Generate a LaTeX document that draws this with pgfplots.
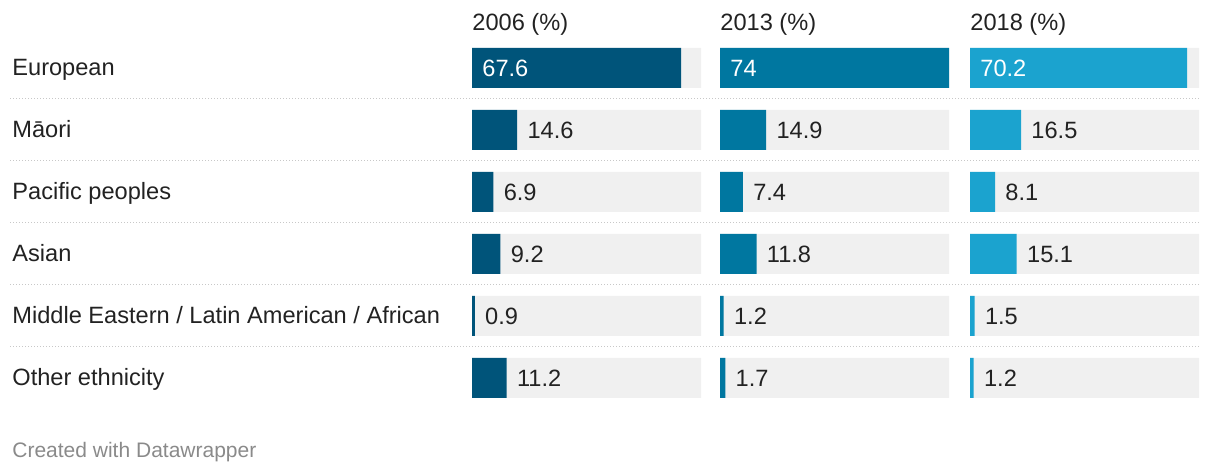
\documentclass[border=0pt]{standalone}
\usepackage{pgfplots}
\pgfplotsset{compat=1.18}
\usepackage{fontspec}
\setmainfont{Liberation Sans}
\definecolor{cA}{HTML}{00547A}
\definecolor{cB}{HTML}{0077A0}
\definecolor{cC}{HTML}{1BA3CF}
\definecolor{bg}{HTML}{F0F0F0}
\definecolor{txt}{HTML}{222222}
\definecolor{foot}{HTML}{8A8A8A}
\definecolor{sep}{HTML}{C8C8C8}
\pgfplotsset{
  panel/.style={
    scale only axis, width=114.5pt, height=186pt,
    anchor=north west,
    xmin=0, xmax=74, ymin=-0.5, ymax=5.5, y dir=reverse,
    axis lines=none, clip=false,
    bar width=20pt, bar shift=0pt,
  },
  lab/.style={draw=none, mark=none, nodes near coords, point meta=explicit symbolic,
    nodes near coords style={anchor=west, inner sep=0pt, xshift=5pt, font=\fontsize{11.8}{14}\selectfont, text=#1}},
}
\begin{document}
\begin{tikzpicture}
\useasboundingbox (0,0) rectangle (610pt,-237pt);
\begin{scope}[font=\fontsize{11.8}{14}\selectfont, text=txt]
\node[anchor=base west, inner sep=0pt] at (6pt,-38pt) {European};
\node[anchor=base west, inner sep=0pt] at (6pt,-69pt) {Māori};
\node[anchor=base west, inner sep=0pt] at (6pt,-100pt) {Pacific peoples};
\node[anchor=base west, inner sep=0pt] at (6pt,-131pt) {Asian};
\node[anchor=base west, inner sep=0pt] at (6pt,-162pt) {Middle Eastern / Latin American / African};
\node[anchor=base west, inner sep=0pt] at (6pt,-193pt) {Other ethnicity};
\node[anchor=base west, inner sep=0pt] at (236pt,-15.5pt) {2006 (\%)};
\node[anchor=base west, inner sep=0pt] at (360pt,-15.5pt) {2013 (\%)};
\node[anchor=base west, inner sep=0pt] at (485pt,-15.5pt) {2018 (\%)};
\end{scope}
\node[anchor=base west, inner sep=0pt, font=\fontsize{10.5}{12}\selectfont, text=foot] at (6pt,-229pt) {Created with Datawrapper};
\foreach \yy in {49.5,80.5,111.5,142.5,173.5}
  \draw[sep, line width=0.5pt, dash pattern=on 0.5pt off 1pt] (5pt,-\yy pt) -- (600pt,-\yy pt);
% 2006
\begin{axis}[panel, at={(236pt,-18.5pt)}]
\addplot[xbar, fill=bg, draw=none] coordinates {(74,0) (74,1) (74,2) (74,3) (74,4) (74,5)};
\addplot[xbar, fill=cA, draw=none] coordinates {(67.6,0) (14.6,1) (6.9,2) (9.2,3) (0.9,4) (11.2,5)};
\addplot[lab=white] coordinates {(0,0) [67.6]};
\addplot[lab=txt] coordinates {(14.6,1) [14.6] (6.9,2) [6.9] (9.2,3) [9.2] (0.9,4) [0.9] (11.2,5) [11.2]};
\end{axis}
% 2013
\begin{axis}[panel, at={(360pt,-18.5pt)}]
\addplot[xbar, fill=bg, draw=none] coordinates {(74,0) (74,1) (74,2) (74,3) (74,4) (74,5)};
\addplot[xbar, fill=cB, draw=none] coordinates {(74,0) (14.9,1) (7.4,2) (11.8,3) (1.2,4) (1.7,5)};
\addplot[lab=white] coordinates {(0,0) [74]};
\addplot[lab=txt] coordinates {(14.9,1) [14.9] (7.4,2) [7.4] (11.8,3) [11.8] (1.2,4) [1.2] (1.7,5) [1.7]};
\end{axis}
% 2018
\begin{axis}[panel, at={(485pt,-18.5pt)}]
\addplot[xbar, fill=bg, draw=none] coordinates {(74,0) (74,1) (74,2) (74,3) (74,4) (74,5)};
\addplot[xbar, fill=cC, draw=none] coordinates {(70.2,0) (16.5,1) (8.1,2) (15.1,3) (1.5,4) (1.2,5)};
\addplot[lab=white] coordinates {(0,0) [70.2]};
\addplot[lab=txt] coordinates {(16.5,1) [16.5] (8.1,2) [8.1] (15.1,3) [15.1] (1.5,4) [1.5] (1.2,5) [1.2]};
\end{axis}
\end{tikzpicture}
\end{document}
